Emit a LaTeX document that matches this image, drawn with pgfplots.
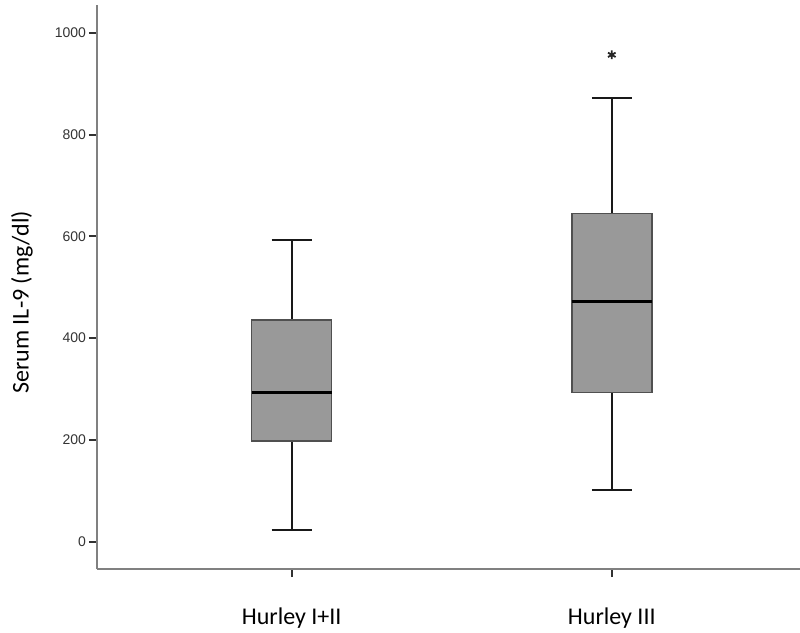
\documentclass[border=0pt]{standalone}
\usepackage{fontspec}
\setmainfont{Carlito}
\newfontfamily\tickfont{Liberation Sans}
\usepackage{pgfplots}
\pgfplotsset{compat=1.18}

\definecolor{boxfill}{RGB}{153,153,153}
\definecolor{boxedge}{RGB}{80,80,80}
\definecolor{axisgray}{RGB}{128,128,128}
\definecolor{tickdark}{RGB}{50,50,50}

\begin{document}
\begin{tikzpicture}
\begin{axis}[
  name=ax,
  scale only axis,
  width=351.5pt, height=282pt,
  xmin=0.392, xmax=2.588,
  ymin=-54, ymax=1055,
  axis lines*=left,
  axis line style={draw=axisgray, line width=0.75pt},
  xtick={1,2},
  xticklabels={Hurley I+II, Hurley III},
  ytick={0,200,...,1000},
  tick align=outside,
  major tick length=4pt,
  tick style={draw=tickdark, line width=1pt},
  /pgf/number format/assume math mode=true,
  /pgf/number format/set thousands separator={},
  yticklabel style={font=\tickfont\fontsize{7}{8}\selectfont, text=black!80, xshift=2pt},
  xticklabel style={font=\fontsize{12}{14}\selectfont, yshift=-12pt},
  ylabel={Serum IL-9 (mg/dl)},
  ylabel style={font=\fontsize{12}{14}\selectfont, at={(axis description cs:-0.1067,0.473)}, anchor=center},
  clip=false,
  whisk/.style={draw=black!90, line width=1pt},
  med/.style={draw=black, line width=1.6pt},
  box/.style={draw=boxedge, fill=boxfill, line width=0.75pt},
]
% Hurley I+II: whiskers 23 / 593, quartiles 198 / 436, median 293
\addplot[whisk] coordinates {(1,23) (1,198)};
\addplot[whisk] coordinates {(1,436) (1,593)};
\addplot[whisk] coordinates {(0.9375,23) (1.0625,23)};
\addplot[whisk] coordinates {(0.9375,593) (1.0625,593)};
\addplot[box] coordinates {(0.875,198) (1.125,198) (1.125,436) (0.875,436)} -- cycle;
\addplot[med] coordinates {(0.875,293) (1.125,293)};
% Hurley III: whiskers 101 / 873, quartiles 293 / 645, median 472, extreme 957
\addplot[whisk] coordinates {(2,101) (2,293)};
\addplot[whisk] coordinates {(2,645) (2,873)};
\addplot[whisk] coordinates {(1.9375,101) (2.0625,101)};
\addplot[whisk] coordinates {(1.9375,873) (2.0625,873)};
\addplot[box] coordinates {(1.875,293) (2.125,293) (2.125,645) (1.875,645)} -- cycle;
\addplot[med] coordinates {(1.875,472) (2.125,472)};
\addplot[only marks, mark=asterisk, mark size=2.2pt, mark options={draw=black!85, line width=0.9pt}] coordinates {(2,957)};
\end{axis}
\pgfresetboundingbox
\path[use as bounding box] ([xshift=-48.5pt,yshift=-31.5pt]ax.south west) rectangle ([yshift=2.5pt]ax.north east);
\end{tikzpicture}
\end{document}
